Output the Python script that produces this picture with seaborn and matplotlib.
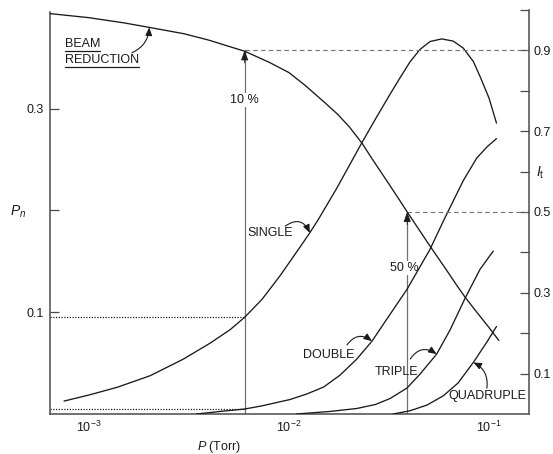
import matplotlib
matplotlib.use("Agg")
import matplotlib.pyplot as plt
import pandas as pd
import seaborn as sns
from matplotlib.lines import Line2D

sns.set_theme(style="white")
plt.rcParams["font.family"] = ["Liberation Sans", "DejaVu Sans"]
plt.rcParams["mathtext.fontset"] = "custom"
plt.rcParams["mathtext.rm"] = "Liberation Sans"
plt.rcParams["mathtext.it"] = "Liberation Sans:italic"
plt.rcParams["mathtext.bf"] = "Liberation Sans:bold"

# ---- data -------------------------------------------------------------
# transmitted beam fraction I_t versus pressure P (Torr)
p_beam = [6.4e-4, 1.0e-3, 1.5e-3, 2.0e-3, 3.0e-3, 4.0e-3, 5.0e-3, 6.0e-3,
          7.0e-3, 8.0e-3, 1.0e-2, 1.2e-2, 1.5e-2, 1.75e-2, 2.0e-2, 2.32e-2,
          2.6e-2, 3.0e-2, 3.5e-2, 3.9e-2, 4.5e-2, 5.0e-2, 6.0e-2, 7.0e-2,
          7.6e-2, 8.5e-2, 1.0e-1, 1.12e-1]
it_beam = [0.991, 0.981, 0.968, 0.957, 0.941, 0.925, 0.910, 0.898,
           0.883, 0.870, 0.845, 0.814, 0.772, 0.742, 0.711, 0.670,
           0.632, 0.586, 0.536, 0.500, 0.454, 0.420, 0.363, 0.314,
           0.289, 0.258, 0.214, 0.182]

# probability P_n of n collisions
p_single = [7.5e-4, 1.01e-3, 1.38e-3, 2.02e-3, 2.96e-3, 4.03e-3, 5.07e-3,
            6.0e-3, 7.33e-3, 9.0e-3, 1.135e-2, 1.27e-2, 1.4e-2, 1.73e-2,
            2.32e-2, 2.73e-2, 3.2e-2, 3.59e-2, 4.03e-2, 4.52e-2, 5.07e-2,
            5.8e-2, 6.63e-2, 7.44e-2, 8.35e-2, 9.02e-2, 1.0e-1, 1.09e-1]
pn_single = [0.0127, 0.0189, 0.0262, 0.0376, 0.0539, 0.0696, 0.0828,
             0.095, 0.1127, 0.1356, 0.164, 0.178, 0.191, 0.2216,
             0.267, 0.2912, 0.3142, 0.3304, 0.3461, 0.3583, 0.366,
             0.3686, 0.3664, 0.3595, 0.3464, 0.3317, 0.3105, 0.2859]

p_double = [3.45e-3, 4.52e-3, 6.0e-3, 7.33e-3, 9.0e-3, 1.01e-2, 1.225e-2,
            1.49e-2, 1.8e-2, 2.18e-2, 2.6e-2, 3.08e-2, 3.89e-2, 5.07e-2,
            6.0e-2, 7.44e-2, 8.68e-2, 9.8e-2, 1.09e-1]
pn_double = [0.0, 0.0025, 0.0049, 0.008, 0.012, 0.0142, 0.0196,
             0.0265, 0.0382, 0.0539, 0.0716, 0.0931, 0.1225, 0.1618,
             0.1922, 0.2294, 0.2515, 0.2627, 0.2706]

p_triple = [1.09e-2, 1.6e-2, 2.18e-2, 2.7e-2, 3.2e-2, 3.89e-2, 4.52e-2,
            5.47e-2, 6.38e-2, 7.59e-2, 9.02e-2, 1.05e-1]
pn_triple = [0.0, 0.0025, 0.0054, 0.0093, 0.0152, 0.0255, 0.0392,
             0.0588, 0.0824, 0.1137, 0.1422, 0.1601]

p_quad = [3.32e-2, 4.03e-2, 4.9e-2, 5.91e-2, 7.0e-2, 8.35e-2, 9.73e-2, 1.09e-1]
pn_quad = [0.0, 0.0032, 0.0088, 0.0179, 0.0304, 0.0507, 0.0703, 0.086]

# beam reductions marked on the chart and the pressures where they occur
reductions = [0.10, 0.50]
p_reduction = [6.0e-3, 3.9e-2]

x_ticks = [1e-3, 1e-2, 1e-1]
x_ticklabels = ["$10^{-3}$", "$10^{-2}$", "$10^{-1}$"]
left_ticks = [0.1, 0.2, 0.3]
left_ticklabels = ["0.1", "", "0.3"]
right_ticks = [0.1, 0.2, 0.3, 0.4, 0.5, 0.6, 0.7, 0.8, 0.9, 1.0]
right_ticklabels = ["0.1", "", "0.3", "", "0.5", "", "0.7", "", "0.9", ""]

# ---- figure -----------------------------------------------------------
W, H = 553, 454
fig = plt.figure(figsize=(W / 100, H / 100), dpi=100)
ax = fig.add_axes([50 / W, 40 / H, 479 / W, 404 / H])
ax2 = ax.twinx()

xlim = (6.38e-4, 0.1585)
ink = "#1a1a1a"
spine_c = "#4a4a4a"
guide_c = "#707070"

frames = []
for name, xs, ys in [("single", p_single, pn_single),
                     ("double", p_double, pn_double),
                     ("triple", p_triple, pn_triple),
                     ("quadruple", p_quad, pn_quad)]:
    frames.append(pd.DataFrame({"P": xs, "Pn": ys, "n": name}))
df = pd.concat(frames, ignore_index=True)

ax.set_xscale("log")
sns.lineplot(data=df, x="P", y="Pn", hue="n", units="n", estimator=None,
             palette={k: ink for k in df["n"].unique()}, legend=False,
             linewidth=0.95, ax=ax, zorder=4)

beam_df = pd.DataFrame({"P": p_beam, "It": it_beam})
sns.lineplot(data=beam_df, x="P", y="It", color=ink, linewidth=0.95,
             ax=ax2, zorder=4)

ax.set_xlim(*xlim)
ax2.set_xlim(*xlim)
ax.set_ylim(0, 0.397)
ax2.set_ylim(0, 1.0)

# spines
for s in ["top", "right"]:
    ax.spines[s].set_visible(False)
for s in ["top", "left", "bottom"]:
    ax2.spines[s].set_visible(False)
for s in ["left", "bottom"]:
    ax.spines[s].set_color(spine_c)
    ax.spines[s].set_linewidth(1.1)
ax2.spines["right"].set_color(spine_c)
ax2.spines["right"].set_linewidth(1.1)
ax.spines["left"].set_bounds(0, 0.395)

# ticks
ax.set_xticks(x_ticks)
ax.set_xticklabels(x_ticklabels)
ax.xaxis.set_minor_locator(matplotlib.ticker.NullLocator())
ax.set_yticks(left_ticks)
ax.set_yticklabels(left_ticklabels)
ax2.set_yticks(right_ticks)
ax2.set_yticklabels(right_ticklabels)
ax.tick_params(axis="both", direction="in", length=6.5, width=0.9,
               color=spine_c, labelsize=9, labelcolor=ink)
ax.tick_params(axis="x", pad=4.5)
ax.tick_params(axis="y", pad=4.3)
ax2.tick_params(axis="y", direction="in", length=6.5, width=0.9,
                color=spine_c, labelsize=9, labelcolor=ink, pad=3.6)

# axis labels
ax.set_xlabel("$P$ (Torr)", fontsize=9, color=ink)
ax.xaxis.set_label_coords(0.353, -0.082)
ax.xaxis.label.set_va("center")
ax.set_ylabel("$P_n$", fontsize=10, color=ink, rotation=0)
ax.yaxis.set_label_coords(-0.067, 0.50)
ax.yaxis.label.set_va("center")
ax.yaxis.label.set_ha("center")
ax2.set_ylabel(r"$I_\mathrm{t}$", fontsize=10, color=ink, rotation=0)
ax2.yaxis.set_label_coords(1.023, 0.597)
ax2.yaxis.label.set_va("center")
ax2.yaxis.label.set_ha("center")

# guide lines for the marked beam reductions
i10 = p_single.index(p_reduction[0])
j10 = p_double.index(p_reduction[0])
for lvl in (pn_single[i10], pn_double[j10]):
    ax.plot([xlim[0], p_reduction[0]], [lvl, lvl], color=ink, lw=0.9,
            ls=(0, (1, 1.2)), zorder=2)

for frac, p in zip(reductions, p_reduction):
    level = 1 - frac
    ax2.plot([p, xlim[1]], [level, level], color=guide_c, lw=0.8,
             ls=(0, (4, 3)), zorder=1)
    # grey shaft drawn beneath the labels, black head on top
    ax.plot([p, p], [0, level], color=guide_c, lw=0.9, zorder=2,
            transform=ax2.transData)
    ax.annotate("", xy=(p, level), xycoords=ax2.transData,
                xytext=(0, -9), textcoords="offset points",
                arrowprops=dict(arrowstyle="-|>,head_length=0.6,head_width=0.22",
                                color=ink, lw=0.6, shrinkA=0, shrinkB=0,
                                mutation_scale=10),
                zorder=2)

txt_kw = dict(fontsize=9, color=ink, ha="center", va="center",
              transform=ax.transAxes)
ax.text(0.405, 0.777, "10 %", zorder=3,
        bbox=dict(facecolor="white", edgecolor="none", pad=1.0), **txt_kw)
ax.text(0.739, 0.361, "50 %", zorder=3,
        bbox=dict(facecolor="white", edgecolor="none", pad=0.6), **txt_kw)

# curve labels
beam_lbl = ax.text(0.031, 0.916, "BEAM", fontsize=9, color=ink, ha="left",
                   va="center", transform=ax.transAxes)
red_lbl = ax.text(0.031, 0.876, "REDUCTION", fontsize=9, color=ink, ha="left",
                  va="center", transform=ax.transAxes)
ax.text(0.460, 0.448, "SINGLE", **txt_kw)
ax.text(0.582, 0.146, "DOUBLE", **txt_kw)
ax.text(0.723, 0.104, "TRIPLE", **txt_kw)
ax.text(0.914, 0.045, "QUADRUPLE", **txt_kw)

arrow_kw = dict(arrowstyle="-|>,head_length=0.6,head_width=0.25",
                color=ink, lw=0.8, shrinkA=0, shrinkB=0, mutation_scale=8)

ax2.annotate("", xy=(p_beam[3], it_beam[3]), xycoords="data",
             xytext=(0.171, 0.894), textcoords=ax.transAxes,
             arrowprops=dict(connectionstyle="arc3,rad=0.3", **arrow_kw))
ax.annotate("", xy=(p_single[11], pn_single[11]), xycoords="data",
            xytext=(0.491, 0.465), textcoords="axes fraction",
            arrowprops=dict(connectionstyle="arc3,rad=-0.6", **arrow_kw))
ax.annotate("", xy=(p_double[10], pn_double[10]), xycoords="data",
            xytext=(0.620, 0.171), textcoords="axes fraction",
            arrowprops=dict(connectionstyle="arc3,rad=-0.5", **arrow_kw))
ax.annotate("", xy=(p_triple[7], pn_triple[7]), xycoords="data",
            xytext=(0.752, 0.136), textcoords="axes fraction",
            arrowprops=dict(connectionstyle="arc3,rad=-0.5", **arrow_kw))
ax.annotate("", xy=(p_quad[5], pn_quad[5]), xycoords="data",
            xytext=(0.912, 0.064), textcoords="axes fraction",
            arrowprops=dict(connectionstyle="arc3,rad=0.35", **arrow_kw))

# underline the beam-reduction caption
fig.canvas.draw()
renderer = fig.canvas.get_renderer()
for t in (beam_lbl, red_lbl):
    bb = t.get_window_extent(renderer)
    y = bb.y0 - 1.0
    fig.add_artist(Line2D([bb.x0, bb.x1], [y, y], transform=None,
                          color=ink, lw=0.9))

fig.savefig("out.png", dpi=100, facecolor="white")
